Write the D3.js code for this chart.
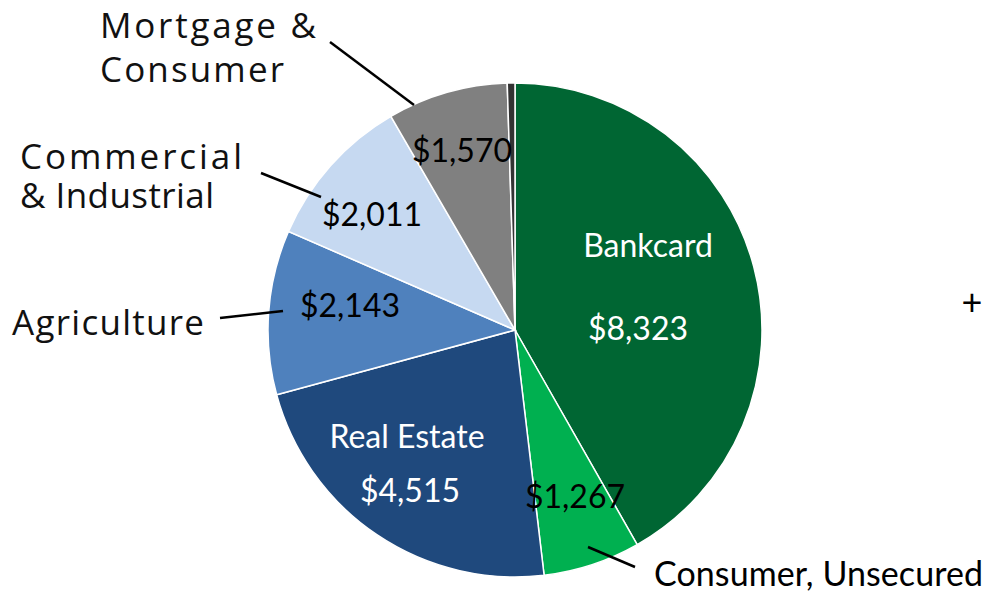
<!DOCTYPE html>
<html>
<head>
<meta charset="utf-8">
<script src="https://cdn.jsdelivr.net/npm/d3@7"></script>
<style>
  body { margin: 0; background: #fff; }
  svg { display: block; }
  .val { font-family: Lato, "Open Sans", sans-serif; font-size: 32px; }
  .outer { font-family: "Open Sans", sans-serif; font-size: 35px; fill: #111; }
</style>
</head>
<body>
<div id="graph"></div>
<script>
// slice order runs clockwise from 12 o'clock
const categories = ["Bankcard", "Consumer, Unsecured", "Real Estate", "Agriculture",
    "Commercial & Industrial", "Mortgage & Consumer", "Other"];
const values = [8323, 1267, 4515, 2143, 2011, 1570, 100];
const valueLabels = ["$8,323", "$1,267", "$4,515", "$2,143", "$2,011", "$1,570", ""];
const colors = ["#006633", "#00B050", "#1F497D", "#4F81BD", "#C6D9F1", "#808080", "#333333"];

const width = 988, height = 597;
const cx = 515, cy = 330, R = 247;

const svg = d3.select("#graph").append("svg")
    .attr("width", width)
    .attr("height", height);

const g = svg.append("g").attr("transform", `translate(${cx},${cy})`);

const pie = d3.pie().sort(null).value((d) => d.v);
const arc = d3.arc().innerRadius(0).outerRadius(R);
const rows = categories.map((c, i) => ({ c, v: values[i], col: colors[i] }));

g.selectAll("path.slice")
    .data(pie(rows))
    .enter().append("path")
    .attr("class", "slice")
    .attr("d", arc)
    .attr("fill", (d) => d.data.col)
    .attr("stroke", "#fff")
    .attr("stroke-width", 1.5);

// label layout, offsets from pie centre
const inside = [
    { i: 0, name: [133, -73], val: [123, 10], white: true },
    { i: 1, val: [60, 178] },
    { i: 2, name: [-108, 118], val: [-105, 172], white: true },
    { i: 3, val: [-165, -13] },
    { i: 4, val: [-143, -104] },
    { i: 5, val: [-53, -168] },
];

inside.forEach((l) => {
    const fill = l.white ? "#fff" : "#000";
    if (l.name) {
        g.append("text").attr("class", "val")
            .attr("x", l.name[0]).attr("y", l.name[1])
            .attr("text-anchor", "middle").attr("fill", fill)
            .text(categories[l.i]);
    }
    g.append("text").attr("class", "val")
        .attr("x", l.val[0]).attr("y", l.val[1])
        .attr("text-anchor", "middle").attr("fill", fill)
        .text(valueLabels[l.i]);
});

// outside labels with leader lines (page coords); w = line widths in the reference
const outer = [
    { lines: ["Mortgage &", "Consumer"], w: [216, 184], x: 100, y: 38, dy: 44, from: [330, 42], to: [414, 105] },
    { lines: ["Commercial", "& Industrial"], w: [222, 194], x: 20, y: 169, dy: 39, from: [261, 173], to: [321, 197] },
    { lines: ["Agriculture"], w: [192], x: 12, y: 335, dy: 0, from: [220, 318], to: [283, 311] },
];

outer.forEach((o) => {
    const t = svg.append("text").attr("class", "outer");
    o.lines.forEach((s, k) => {
        t.append("tspan").attr("x", o.x).attr("y", o.y + k * o.dy)
            .attr("textLength", o.w[k]).attr("lengthAdjust", "spacing")
            .text(s);
    });
    svg.append("line")
        .attr("x1", o.from[0]).attr("y1", o.from[1])
        .attr("x2", o.to[0]).attr("y2", o.to[1])
        .attr("stroke", "#000").attr("stroke-width", 2.5);
});

svg.append("text").attr("class", "val")
    .attr("x", 654).attr("y", 586)
    .style("font-size", "34px")
    .attr("textLength", 329).attr("lengthAdjust", "spacing")
    .attr("fill", "#000")
    .text(categories[1]);
svg.append("line")
    .attr("x1", 588).attr("y1", 547)
    .attr("x2", 635).attr("y2", 567)
    .attr("stroke", "#000").attr("stroke-width", 2.5);

svg.append("text")
    .attr("x", 972).attr("y", 315)
    .attr("text-anchor", "middle")
    .style("font-family", "Lato, sans-serif")
    .style("font-size", "36px")
    .text("+");
</script>
</body>
</html>
